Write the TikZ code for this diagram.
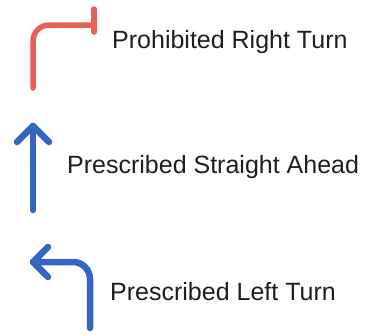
\documentclass[tikz,border=0pt]{standalone}
\usepackage{fontspec}
\setmainfont{Liberation Sans}
\definecolor{redarrow}{HTML}{E8605A}
\definecolor{bluearrow}{HTML}{3366C0}
\definecolor{labeltext}{HTML}{1E1E1E}
\begin{document}
\begin{tikzpicture}[x=1pt,y=-1pt,
  lbl/.style={anchor=base west,inner sep=0pt,text=labeltext,font=\fontsize{25}{30}\selectfont},
  redline/.style={draw=redarrow,line width=5.5pt,line cap=round,line join=round},
  blueline/.style={draw=bluearrow,line width=6.5pt,line cap=round,line join=round}]
\useasboundingbox (0,0) rectangle (369,333);
% red prohibited right turn
\coordinate (r1) at (33,88);
\coordinate (r2) at (33,25);
\coordinate (r3) at (94,25);
\coordinate (rb1) at (94,9);
\coordinate (rb2) at (94,32);
\draw[redline,rounded corners=16pt] (r1) -- (r2) -- (r3);
\draw[redline] (rb1) -- (rb2);
% blue straight ahead
\coordinate (s1) at (33,210);
\coordinate (s2) at (33,126);
\coordinate (sa) at (17,142);
\coordinate (sb) at (49,142);
\draw[blueline] (s1) -- (s2);
\draw[blueline] (sa) -- (s2) -- (sb);
% blue left turn
\coordinate (l1) at (90,328);
\coordinate (l2) at (90,262);
\coordinate (l3) at (33,262);
\coordinate (la) at (48,247);
\coordinate (lb) at (48,277);
\draw[blueline,rounded corners=17pt] (l1) -- (l2) -- (l3);
\draw[blueline] (la) -- (l3) -- (lb);
% labels
\node[lbl] (t1) at (112,48) {Prohibited Right Turn};
\node[lbl] (t2) at (67,173) {Prescribed Straight Ahead};
\node[lbl] (t3) at (110,300) {Prescribed Left Turn};
\end{tikzpicture}
\end{document}
